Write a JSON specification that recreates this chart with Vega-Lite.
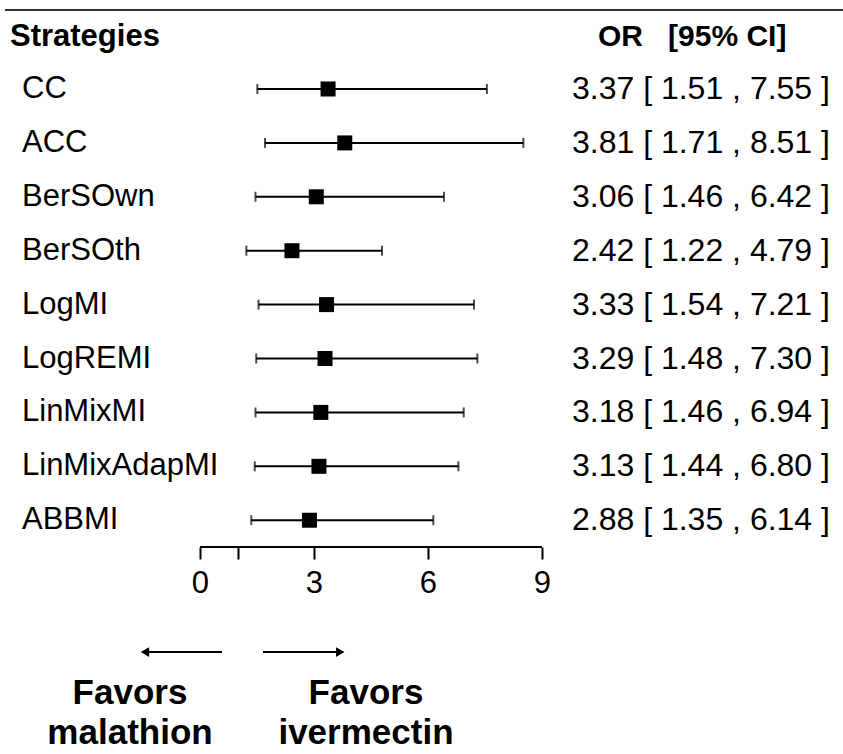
{
  "$schema": "https://vega.github.io/schema/vega-lite/v6.json",
  "width": 843,
  "height": 754,
  "autosize": {"type": "none"},
  "padding": 0,
  "background": "white",
  "config": {"view": {"stroke": null}, "font": "Liberation Sans"},
  "data": {
    "values": [
      {"strategy": "CC", "or": 3.37, "lo": 1.51, "hi": 7.55, "ci": "3.37 [ 1.51 , 7.55 ]"},
      {"strategy": "ACC", "or": 3.81, "lo": 1.71, "hi": 8.51, "ci": "3.81 [ 1.71 , 8.51 ]"},
      {"strategy": "BerSOwn", "or": 3.06, "lo": 1.46, "hi": 6.42, "ci": "3.06 [ 1.46 , 6.42 ]"},
      {"strategy": "BerSOth", "or": 2.42, "lo": 1.22, "hi": 4.79, "ci": "2.42 [ 1.22 , 4.79 ]"},
      {"strategy": "LogMI", "or": 3.33, "lo": 1.54, "hi": 7.21, "ci": "3.33 [ 1.54 , 7.21 ]"},
      {"strategy": "LogREMI", "or": 3.29, "lo": 1.48, "hi": 7.30, "ci": "3.29 [ 1.48 , 7.30 ]"},
      {"strategy": "LinMixMI", "or": 3.18, "lo": 1.46, "hi": 6.94, "ci": "3.18 [ 1.46 , 6.94 ]"},
      {"strategy": "LinMixAdapMI", "or": 3.13, "lo": 1.44, "hi": 6.80, "ci": "3.13 [ 1.44 , 6.80 ]"},
      {"strategy": "ABBMI", "or": 2.88, "lo": 1.35, "hi": 6.14, "ci": "2.88 [ 1.35 , 6.14 ]"}
    ]
  },
  "transform": [{"window": [{"op": "row_number", "as": "row"}]}],
  "layer": [
    {
      "mark": {"type": "rule", "color": "black", "strokeWidth": 2},
      "encoding": {
        "x": {
          "field": "lo", "type": "quantitative",
          "scale": {"domain": [-5.263, 16.921], "nice": false, "zero": false},
          "axis": {
            "orient": "bottom", "offset": -207, "domain": false, "grid": false,
            "values": [0, 1, 3, 6, 9],
            "labelExpr": "datum.value == 1 ? '' : datum.label",
            "tickSize": 12, "tickWidth": 2, "tickColor": "black",
            "labelFontSize": 31, "labelColor": "black", "labelFont": "Liberation Sans",
            "labelPadding": 9, "labelFlush": false, "labelOverlap": false, "title": null
          }
        },
        "x2": {"field": "hi"},
        "y": {
          "field": "row", "type": "quantitative",
          "scale": {"domain": [-0.651, 13.337], "reverse": true, "nice": false, "zero": false},
          "axis": null
        }
      }
    },
    {
      "mark": {"type": "tick", "orient": "vertical", "size": 10, "thickness": 2, "color": "black"},
      "encoding": {
        "x": {"field": "lo", "type": "quantitative"},
        "y": {"field": "row", "type": "quantitative"}
      }
    },
    {
      "mark": {"type": "tick", "orient": "vertical", "size": 10, "thickness": 2, "color": "black"},
      "encoding": {
        "x": {"field": "hi", "type": "quantitative"},
        "y": {"field": "row", "type": "quantitative"}
      }
    },
    {
      "mark": {"type": "point", "shape": "square", "filled": true, "color": "black", "opacity": 1, "size": 225},
      "encoding": {
        "x": {"field": "or", "type": "quantitative"},
        "y": {"field": "row", "type": "quantitative"}
      }
    },
    {
      "mark": {"type": "text", "align": "left", "baseline": "middle", "fontSize": 31, "color": "black"},
      "encoding": {
        "x": {"datum": -4.684, "type": "quantitative"},
        "y": {"field": "row", "type": "quantitative"},
        "text": {"field": "strategy"}
      }
    },
    {
      "mark": {"type": "text", "align": "left", "baseline": "middle", "fontSize": 32, "color": "black"},
      "encoding": {
        "x": {"datum": 9.789, "type": "quantitative"},
        "y": {"field": "row", "type": "quantitative"},
        "text": {"field": "ci"}
      }
    },
    {
      "data": {"values": [{}]},
      "mark": {"type": "text", "align": "left", "baseline": "middle", "fontSize": 31, "fontWeight": "bold", "color": "black", "text": "Strategies"},
      "encoding": {
        "x": {"datum": -5.0, "type": "quantitative"},
        "y": {"datum": 0.03, "type": "quantitative"}
      }
    },
    {
      "data": {"values": [{}]},
      "mark": {"type": "text", "align": "left", "baseline": "middle", "fontSize": 30, "fontWeight": "bold", "color": "black", "text": "OR\u00a0\u00a0\u00a0[95%\u00a0CI]"},
      "encoding": {
        "x": {"datum": 10.474, "type": "quantitative"},
        "y": {"datum": 0.03, "type": "quantitative"}
      }
    },
    {
      "data": {"values": [{}]},
      "mark": {"type": "rule", "color": "#333333", "strokeWidth": 2},
      "encoding": {
        "x": {"datum": -5.132, "type": "quantitative"},
        "x2": {"datum": 16.921},
        "y": {"datum": -0.466, "type": "quantitative"}
      }
    },
    {
      "data": {"values": [{}]},
      "mark": {"type": "rule", "color": "black", "strokeWidth": 2},
      "encoding": {
        "x": {"datum": 0, "type": "quantitative"},
        "x2": {"datum": 9},
        "y": {"datum": 9.497, "type": "quantitative"}
      }
    },
    {
      "data": {"values": [{}]},
      "mark": {"type": "rule", "color": "black", "strokeWidth": 2},
      "encoding": {
        "x": {"datum": 0.579, "type": "quantitative"},
        "x2": {"datum": -1.42},
        "y": {"datum": 11.445, "type": "quantitative"}
      }
    },
    {
      "data": {"values": [{}]},
      "mark": {"type": "rule", "color": "black", "strokeWidth": 2},
      "encoding": {
        "x": {"datum": 1.658, "type": "quantitative"},
        "x2": {"datum": 3.66},
        "y": {"datum": 11.445, "type": "quantitative"}
      }
    },
    {
      "data": {"values": [{}]},
      "mark": {"type": "point", "shape": "triangle-left", "filled": true, "color": "black", "opacity": 1, "size": 95},
      "encoding": {
        "x": {"datum": -1.45, "type": "quantitative"},
        "y": {"datum": 11.445, "type": "quantitative"}
      }
    },
    {
      "data": {"values": [{}]},
      "mark": {"type": "point", "shape": "triangle-right", "filled": true, "color": "black", "opacity": 1, "size": 95},
      "encoding": {
        "x": {"datum": 3.69, "type": "quantitative"},
        "y": {"datum": 11.445, "type": "quantitative"}
      }
    },
    {
      "data": {"values": [{}]},
      "mark": {"type": "text", "align": "center", "baseline": "middle", "fontSize": 35, "fontWeight": "bold", "color": "black", "lineHeight": 40, "text": ["Favors", "malathion"]},
      "encoding": {
        "x": {"datum": -1.842, "type": "quantitative"},
        "y": {"datum": 12.2, "type": "quantitative"}
      }
    },
    {
      "data": {"values": [{}]},
      "mark": {"type": "text", "align": "center", "baseline": "middle", "fontSize": 35, "fontWeight": "bold", "color": "black", "lineHeight": 40, "text": ["Favors", "ivermectin"]},
      "encoding": {
        "x": {"datum": 4.368, "type": "quantitative"},
        "y": {"datum": 12.2, "type": "quantitative"}
      }
    }
  ]
}
